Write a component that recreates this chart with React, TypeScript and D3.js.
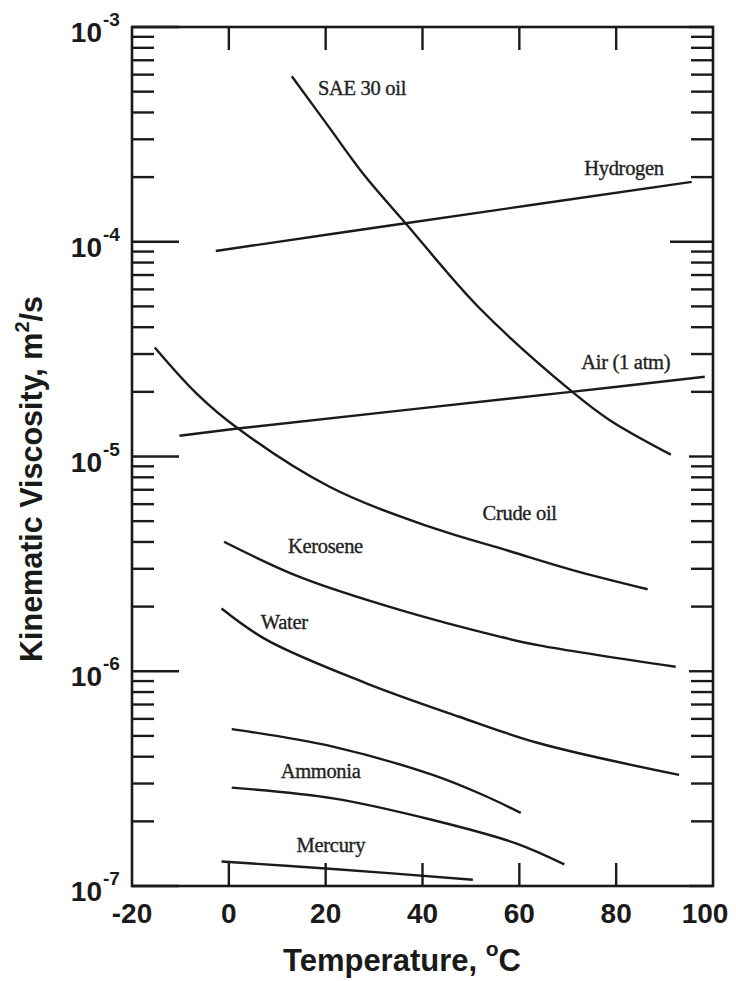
import React from "react";
import * as d3 from "d3";

// ---- data (temperature °C, kinematic viscosity m²/s) ----
const saeT = [13, 20.8, 27.7, 36.5, 51.8, 70.7, 78.6, 91.3];
const saeV = [5.9e-4, 3.39e-4, 2.08e-4, 1.22e-4, 4.9e-5, 2.02e-5, 1.48e-5, 1.02e-5];

const hydrogenT = [-2.7, 36.5, 95.6];
const hydrogenV = [9.06e-5, 1.22e-4, 1.9e-4];

const airT = [-10.2, 1.9, 70.7, 98.3];
const airV = [1.25e-5, 1.35e-5, 2.0e-5, 2.35e-5];

const crudeT = [-15.3, -6.7, 1.9, 20.8, 41.4, 57.9, 71.0, 86.5];
const crudeV = [3.22e-5, 1.97e-5, 1.35e-5, 7.23e-6, 4.71e-6, 3.63e-6, 2.96e-6, 2.41e-6];

const keroseneT = [-1.0, 14.6, 35.3, 55.9, 64.1, 92.3];
const keroseneV = [4.01e-6, 2.75e-6, 1.93e-6, 1.45e-6, 1.32e-6, 1.05e-6];

const waterT = [-1.5, 7.8, 28.4, 47.6, 64.1, 93.0];
const waterV = [1.96e-6, 1.4e-6, 8.79e-7, 6.14e-7, 4.62e-7, 3.29e-7];

const upperLowT = [0.6, 21.5, 42.1, 52.4, 60.3];
const upperLowV = [5.38e-7, 4.46e-7, 3.29e-7, 2.66e-7, 2.19e-7];

const ammoniaT = [0.6, 21.5, 42.1, 59.3, 69.3];
const ammoniaV = [2.87e-7, 2.56e-7, 2.03e-7, 1.58e-7, 1.26e-7];

const mercuryT = [-1.5, 21.5, 50.4];
const mercuryV = [1.3e-7, 1.2e-7, 1.07e-7];

const seriesT = [saeT, hydrogenT, airT, crudeT, keroseneT, waterT, upperLowT, ammoniaT, mercuryT];
const seriesV = [saeV, hydrogenV, airV, crudeV, keroseneV, waterV, upperLowV, ammoniaV, mercuryV];

// curve labels, anchored in data coordinates (T, log10 v)
const labelText = ["SAE 30 oil", "Hydrogen", "Air (1 atm)", "Crude oil", "Kerosene", "Water", "Ammonia", "Mercury"];
const labelT = [18.4, 73.4, 72.8, 52.4, 12.2, 6.6, 10.7, 14.0];
const labelLogV = [-3.317, -3.689, -4.593, -5.296, -5.449, -5.803, -6.497, -6.842];

const xTicks = [-20, 0, 20, 40, 60, 80, 100];
const xInnerTicks = [0, 20, 40, 60, 80];
const decadeExps = [-3, -4, -5, -6, -7];

export default function App() {
  const x = d3.scaleLinear().domain([-20, 100]).range([132, 713]);
  const y = d3.scaleLog().domain([1e-7, 1e-3]).range([886, 27]);
  const [x0, x1] = x.range();
  const [yb, yt] = y.range();

  const line = d3
    .line<[number, number]>()
    .x((d) => x(d[0]))
    .y((d) => y(d[1]))
    .curve(d3.curveCatmullRom.alpha(0.5));

  const minors: number[] = [];
  for (let e = -7; e < -3; e++) {
    for (let m = 2; m <= 9; m++) minors.push(m * Math.pow(10, e));
  }

  const sans = "'Liberation Sans', Arial, sans-serif";
  const serif = "'Liberation Serif', 'Times New Roman', serif";
  const ink = "#1a1a1a";

  return (
    <svg
      width={736}
      height={981}
      style={{ position: "absolute", left: 0, top: 0, background: "#fff" }}
    >
      <rect x={0} y={0} width={736} height={981} fill="#fff" />
      {/* curves */}
      {seriesT.map((ts, i) => (
        <path
          key={i}
          d={line(ts.map((t, j) => [t, seriesV[i][j]] as [number, number])) || ""}
          fill="none"
          stroke={ink}
          strokeWidth={2.4}
        />
      ))}
      {/* ticks */}
      <g stroke={ink} strokeWidth={2.4}>
        {xInnerTicks.map((t) => (
          <g key={"xt" + t}>
            <line x1={x(t)} x2={x(t)} y1={yb} y2={yb - 23} />
            <line x1={x(t)} x2={x(t)} y1={yt} y2={yt + 23} />
          </g>
        ))}
        {minors.map((v, i) => (
          <g key={"mn" + i}>
            <line x1={x0} x2={x0 + 22} y1={y(v)} y2={y(v)} />
            <line x1={x1} x2={x1 - 22} y1={y(v)} y2={y(v)} />
          </g>
        ))}
        {decadeExps.map((e) => (
          <g key={"dc" + e}>
            <line x1={x0} x2={x0 + 47} y1={y(Math.pow(10, e))} y2={y(Math.pow(10, e))} />
            <line
              x1={x1}
              x2={x1 - (e === -4 ? 43 : 24)}
              y1={y(Math.pow(10, e))}
              y2={y(Math.pow(10, e))}
            />
          </g>
        ))}
      </g>
      {/* frame */}
      <rect x={x0} y={yt} width={x1 - x0} height={yb - yt} fill="none" stroke={ink} strokeWidth={2.6} />

      {/* y tick labels */}
      {decadeExps.map((e) => (
        <g key={"yl" + e} fontFamily={sans} fontWeight="bold" fill={ink}>
          <text x={102} y={y(Math.pow(10, e)) + 15} fontSize={28} textAnchor="end">
            10
          </text>
          <text x={103} y={y(Math.pow(10, e)) - 1} fontSize={19}>
            {"-" + String(-e)}
          </text>
        </g>
      ))}
      {/* x tick labels */}
      {xTicks.map((t, i) => (
        <text
          key={"xl" + t}
          x={x(t)}
          dx={i === xTicks.length - 1 ? -8 : 0}
          y={923}
          fontSize={28}
          fontFamily={sans}
          fontWeight="bold"
          textAnchor="middle"
          fill={ink}
        >
          {String(t)}
        </text>
      ))}
      {/* axis titles */}
      <text x={283} y={971} fontSize={31} fontFamily={sans} fontWeight="bold" fill={ink}>
        Temperature,{" "}
        <tspan fontSize={21} dy={-15}>
          o
        </tspan>
        <tspan dy={15}>C</tspan>
      </text>
      <text
        transform={`translate(42,662) rotate(-90)`}
        fontSize={30.5}
        fontFamily={sans}
        fontWeight="bold"
        fill={ink}
      >
        Kinematic Viscosity, m
        <tspan fontSize={20} dy={-13}>
          2
        </tspan>
        <tspan dy={13}>/s</tspan>
      </text>

      {/* curve labels */}
      {labelText.map((s, i) => (
        <text
          key={"lb" + i}
          x={x(labelT[i])}
          y={y(Math.pow(10, labelLogV[i]))}
          fontSize={20.5}
          fontFamily={serif}
          fill="#222"
          stroke="#222"
          strokeWidth={0.35}
          letterSpacing={-0.3}
        >
          {s}
        </text>
      ))}
    </svg>
  );
}
